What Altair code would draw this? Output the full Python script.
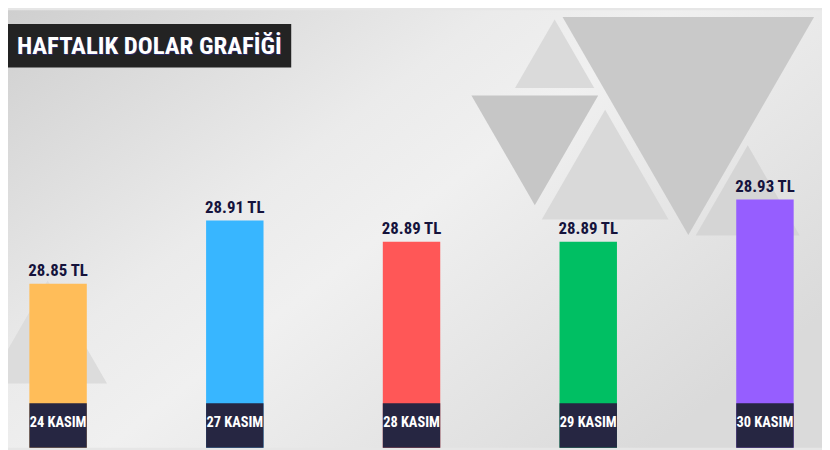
import altair as alt
import pandas as pd

# ---- data ----
dates = ["24 KASIM", "27 KASIM", "28 KASIM", "29 KASIM", "30 KASIM"]
rates = [28.85, 28.91, 28.89, 28.89, 28.93]
bar_colors = ["#FFBD59", "#38B6FF", "#FF5757", "#00BF63", "#965EFF"]
title_text = "HAFTALIK DOLAR GRAFİĞİ"

# ---- decorative background triangles (not data) ----
decor_x = [687, 532, 552, 603, 747, 40]
decor_y = [117, 141.5, 44, 156, 182, 325]
decor_size = [64516, 16384, 6400, 16384, 11025, 14400]
decor_shape = ["triangle-down", "triangle-down", "triangle-up", "triangle-up", "triangle-up", "triangle-up"]
decor_color = ["#c9c9c9", "#c6c6c6", "#dadada", "#d9d9d9", "#d5d5d5", "#dcdcdc"]

W, H = 822, 442
Y_DOMAIN = [28.694, 29.11]
FONT = "Liberation Sans Narrow, Arial Narrow, Roboto Condensed, DejaVu Sans Condensed, sans-serif"

df = pd.DataFrame({"date": dates, "rate": rates})
decor = pd.DataFrame({"cx": decor_x, "cy": decor_y, "size": decor_size,
                      "shape": decor_shape, "col": decor_color})
one = pd.DataFrame({"t": [title_text]})

xenc = alt.X("date:N", sort=dates,
             scale=alt.Scale(type="band", paddingInner=0.675, paddingOuter=0.1406, align=0.43),
             axis=None)
yscale = alt.Scale(domain=Y_DOMAIN, zero=False, nice=False, clamp=True)

bg = alt.Chart(one).mark_rect(
    color=alt.Gradient(
        gradient="linear", x1=0, y1=0, x2=1, y2=0.7,
        stops=[alt.GradientStop(offset=0, color="#cfcfcf"),
               alt.GradientStop(offset=0.4, color="#ebebeb"),
               alt.GradientStop(offset=0.55, color="#f0f0f0"),
               alt.GradientStop(offset=1, color="#dadada")])
).encode(x=alt.value(0), x2=alt.value(W), y=alt.value(0), y2=alt.value(H))

tri = alt.Chart(decor).mark_point(filled=True, opacity=1, strokeWidth=0).encode(
    x=alt.X("cx:Q", scale=None, axis=None),
    y=alt.Y("cy:Q", scale=None, axis=None),
    size=alt.Size("size:Q", scale=None, legend=None),
    shape=alt.Shape("shape:N", scale=None, legend=None),
    color=alt.Color("col:N", scale=None, legend=None),
)

title_box = alt.Chart(one).mark_rect(color="#232323").encode(
    x=alt.value(0), x2=alt.value(286), y=alt.value(14), y2=alt.value(58))
title_shadow = alt.Chart(one).mark_text(
    align="left", baseline="middle", font=FONT, fontSize=25, fontWeight="bold",
    color="#2a2a6a").encode(x=alt.value(10), y=alt.value(37), text="t:N")
title = alt.Chart(one).mark_text(
    align="left", baseline="middle", font=FONT, fontSize=25, fontWeight="bold",
    color="#ffffff").encode(x=alt.value(9), y=alt.value(36), text="t:N")

base = alt.Chart(df)

bars = base.mark_bar().encode(
    x=xenc,
    y=alt.Y("rate:Q", scale=yscale, axis=None),
    y2=alt.datum(Y_DOMAIN[0]),
    color=alt.Color("date:N", scale=alt.Scale(domain=dates, range=bar_colors), legend=None),
)

boxes = base.mark_rect(color="#262642").encode(
    x=xenc, y=alt.value(397), y2=alt.value(H))

vlabels = base.transform_calculate(
    label="format(datum.rate, '.2f') + ' TL'"
).mark_text(baseline="bottom", dy=-4, font=FONT, fontSize=17, fontWeight="bold",
            color="#15133c").encode(
    x=xenc, y=alt.Y("rate:Q", scale=yscale, axis=None), text="label:N")

dlabels = base.mark_text(baseline="middle", font=FONT, fontSize=14.5, fontWeight="bold",
                         color="#ffffff").encode(
    x=xenc, y=alt.value(417), text="date:N")

data_layers = alt.layer(bars, boxes, vlabels, dlabels)

chart = alt.layer(bg, tri, title_box, title_shadow, title, data_layers).resolve_scale(
    x="independent", y="independent", color="independent", size="independent", shape="independent"
).properties(
    width=W, height=H, padding=0, autosize=alt.AutoSizeParams(type="none"),
    background="#e6e6e6"
).configure_view(stroke=None)

chart.save("out.html", embed_options={"renderer": "svg", "actions": False})
